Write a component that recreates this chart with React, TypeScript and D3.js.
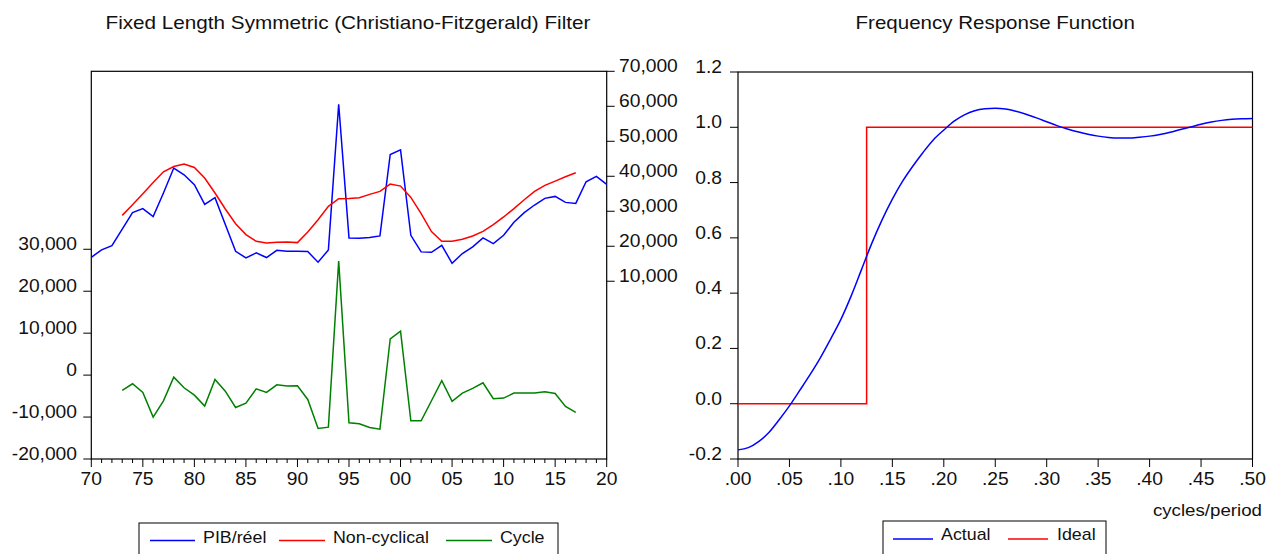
import React from 'react';
import * as d3 from 'd3';

// ---------- data ----------
const years = d3.range(1970, 2021);
const pib = [
  16850, 18960, 20190, 24900, 29600, 30740, 28460, 35210, 42340, 40430,
  37580, 31970, 33870, 26200, 18570, 16680, 18100, 16770, 18850, 18570,
  18570, 18480, 15430, 18960, 60590, 22380, 22290, 22470, 22950, 46220,
  47560, 23130, 18390, 18280, 20270, 15140, 17910, 19810, 22380, 20760,
  23130, 26840, 29600, 31790, 33680, 34250, 32540, 32250, 38440, 39950,
  37670,
];
const filterYears = d3.range(1973, 2018);
const nonCyclical = [
  28830, 31880, 35020, 38240, 41290, 42800, 43480, 42520, 39490, 35210,
  30650, 26460, 23320, 21410, 20950, 21130, 21220, 21040, 24100, 27600,
  31400, 33590, 33680, 33870, 34820, 35680, 37770, 37200, 33970, 29310,
  24180, 21410, 21410, 21990, 22950, 24270, 26180, 28370, 30740, 33300,
  35680, 37390, 38630, 39860, 41000,
];
const cycle = [
  -3650, -2070, -4130, -10010, -6120, -480, -3020, -4770, -7390, -1030,
  -3820, -7710, -6680, -3260, -4130, -2310, -2620, -2540, -5800, -12720,
  -12400, 27180, -11360, -11600, -12480, -12880, 8660, 10490, -10890, -10890,
  -6120, -1350, -6280, -4290, -3180, -1830, -5640, -5480, -4290, -4290,
  -4290, -3970, -4370, -7470, -8900,
];
const leftTicks = [-20000, -10000, 0, 10000, 20000, 30000];
const rightTicks = [10000, 20000, 30000, 40000, 50000, 60000, 70000];
const yearLabels = [1970, 1975, 1980, 1985, 1990, 1995, 2000, 2005, 2010, 2015, 2020];

const freq = d3.range(0, 51).map((i) => i / 100);
const actual = [
  -0.167, -0.159, -0.137, -0.104, -0.058, -0.008, 0.048, 0.105, 0.166, 0.234,
  0.305, 0.39, 0.485, 0.58, 0.665, 0.74, 0.805, 0.86, 0.91, 0.955,
  0.99, 1.022, 1.045, 1.06, 1.067, 1.069, 1.066, 1.058, 1.047, 1.034,
  1.02, 1.006, 0.994, 0.984, 0.975, 0.968, 0.963, 0.961, 0.961, 0.964,
  0.968, 0.974, 0.982, 0.992, 1.001, 1.011, 1.019, 1.025, 1.029, 1.031,
  1.032,
];
const idealFreq = [0, 0.125, 0.5];
const ideal = [0, 1, 1];
const freqTicks = [0, 0.05, 0.1, 0.15, 0.2, 0.25, 0.3, 0.35, 0.4, 0.45, 0.5];
const respTicks = [-0.2, 0, 0.2, 0.4, 0.6, 0.8, 1.0, 1.2];

// ---------- helpers ----------
const FONT = '"Liberation Sans", Arial, Helvetica, sans-serif';
const locale = d3.formatLocale({
  decimal: '.',
  thousands: ',',
  grouping: [3],
  currency: ['', ''],
  minus: '-',
});

function Txt({ x, y, children, anchor = 'start', size = 17.5, sx = 1.1 }: any) {
  return (
    <text
      transform={`translate(${x},${y}) scale(${sx},1)`}
      textAnchor={anchor}
      fontSize={size}
      fontFamily={FONT}
      fill="#111"
    >
      {children}
    </text>
  );
}

export default function App() {
  // left panel
  const L = { x0: 91.3, x1: 606.7, y0: 71.3, y1: 459 };
  const xYear = d3.scaleLinear().domain([1970, 2020]).range([L.x0, L.x1]);
  const yLeft = d3.scaleLinear().domain([-20000, 72430]).range([L.y1, L.y0]);
  const yRight = d3.scaleLinear().domain([-40800, 70000]).range([L.y1, L.y0]);

  const lineR = d3.line<number>().x((_, i) => xYear(years[i])).y((d) => yRight(d));
  const lineTrend = d3.line<number>().x((_, i) => xYear(filterYears[i])).y((d) => yRight(d));
  const lineCycle = d3.line<number>().x((_, i) => xYear(filterYears[i])).y((d) => yLeft(d));

  // right panel
  const R = { x0: 738, x1: 1252.5, y0: 72, y1: 459 };
  const xF = d3.scaleLinear().domain([0, 0.5]).range([R.x0, R.x1]);
  const yF = d3.scaleLinear().domain([-0.2, 1.2]).range([R.y1, R.y0]);
  const lineActual = d3
    .line<number>()
    .x((_, i) => xF(freq[i]))
    .y((d) => yF(d))
    .curve(d3.curveMonotoneX);
  const lineIdeal = d3
    .line<number>()
    .x((_, i) => xF(idealFreq[i]))
    .y((d) => yF(d))
    .curve(d3.curveStepAfter);

  const fmtK = locale.format(',');
  const fmtYear = (y: number) => String(y % 100).padStart(2, '0');
  const fmtF = (f: number) => locale.format('.2f')(f).replace(/^0/, '');
  const fmtR = locale.format('.1f');

  return (
    <svg
      width={1277}
      height={554}
      style={{ position: 'absolute', left: 0, top: 0, background: '#fff', display: 'block' }}
    >
      <rect x={0} y={0} width={1277} height={554} fill="#fff" />

      {/* ===== Left panel ===== */}
      <Txt x={(L.x0 + L.x1) / 2 - 1} y={29} anchor="middle" size={18} sx={1.15}>
        Fixed Length Symmetric (Christiano-Fitzgerald) Filter
      </Txt>
      <rect x={L.x0} y={L.y0} width={L.x1 - L.x0} height={L.y1 - L.y0} fill="none" stroke="#000" strokeWidth={1.2} />

      {leftTicks.map((t) => (
        <g key={'lt' + t}>
          <line x1={L.x0 - 8} x2={L.x0} y1={yLeft(t)} y2={yLeft(t)} stroke="#000" />
          <Txt x={77} y={yLeft(t) + 1} anchor="end">
            {fmtK(t)}
          </Txt>
        </g>
      ))}
      {rightTicks.map((t) => (
        <g key={'rt' + t}>
          <line x1={L.x1} x2={L.x1 + 8} y1={yRight(t)} y2={yRight(t)} stroke="#000" />
          <Txt x={619} y={yRight(t) + 1} anchor="start">
            {fmtK(t)}
          </Txt>
        </g>
      ))}
      {years.map((y) => (
        <line
          key={'yt' + y}
          x1={xYear(y)}
          x2={xYear(y)}
          y1={L.y1}
          y2={L.y1 + (y % 5 === 0 ? 8 : 4)}
          stroke="#000"
        />
      ))}
      {yearLabels.map((y) => (
        <Txt key={'yl' + y} x={xYear(y)} y={485} anchor="middle">
          {fmtYear(y)}
        </Txt>
      ))}

      <path d={lineR(pib) || ''} fill="none" stroke="#0000ff" strokeWidth={1.5} />
      <path d={lineTrend(nonCyclical) || ''} fill="none" stroke="#ff0000" strokeWidth={1.5} />
      <path d={lineCycle(cycle) || ''} fill="none" stroke="#008000" strokeWidth={1.5} />

      {/* left legend */}
      <rect x={139} y={523} width={419} height={60} fill="#fff" stroke="#000" strokeWidth={1} />
      <line x1={150} x2={195} y1={540.5} y2={540.5} stroke="#0000ff" strokeWidth={1.5} />
      <Txt x={203} y={543} size={16.2}>PIB/réel</Txt>
      <line x1={279} x2={325} y1={540.5} y2={540.5} stroke="#ff0000" strokeWidth={1.5} />
      <Txt x={333} y={543} size={16.2}>Non-cyclical</Txt>
      <line x1={446} x2={492} y1={540.5} y2={540.5} stroke="#008000" strokeWidth={1.5} />
      <Txt x={500} y={543} size={16.2}>Cycle</Txt>

      {/* ===== Right panel ===== */}
      <Txt x={(R.x0 + R.x1) / 2} y={29} anchor="middle" size={18} sx={1.14}>
        Frequency Response Function
      </Txt>
      <rect x={R.x0} y={R.y0} width={R.x1 - R.x0} height={R.y1 - R.y0} fill="none" stroke="#000" strokeWidth={1.2} />
      {respTicks.map((t) => (
        <g key={'ft' + t}>
          <line x1={R.x0 - 8} x2={R.x0} y1={yF(t)} y2={yF(t)} stroke="#000" />
          <Txt x={722} y={yF(t) + 1} anchor="end">
            {fmtR(t)}
          </Txt>
        </g>
      ))}
      {freqTicks.map((f) => (
        <g key={'fx' + f}>
          <line x1={xF(f)} x2={xF(f)} y1={R.y1} y2={R.y1 + 8} stroke="#000" />
          <Txt x={xF(f)} y={485} anchor="middle">
            {fmtF(f)}
          </Txt>
        </g>
      ))}
      <Txt x={1262} y={516} anchor="end" size={17} sx={1.1}>
        cycles/period
      </Txt>

      <path d={lineIdeal(ideal) || ''} fill="none" stroke="#ff0000" strokeWidth={1.5} />
      <path d={lineActual(actual) || ''} fill="none" stroke="#0000ff" strokeWidth={1.5} />

      {/* right legend */}
      <rect x={883} y={521} width={223} height={60} fill="#fff" stroke="#000" strokeWidth={1} />
      <line x1={893} x2={933} y1={539} y2={539} stroke="#0000ff" strokeWidth={1.5} />
      <Txt x={941} y={540} size={16.2}>Actual</Txt>
      <line x1={1008} x2={1048} y1={539} y2={539} stroke="#ff0000" strokeWidth={1.5} />
      <Txt x={1057} y={540} size={16.2}>Ideal</Txt>
    </svg>
  );
}
